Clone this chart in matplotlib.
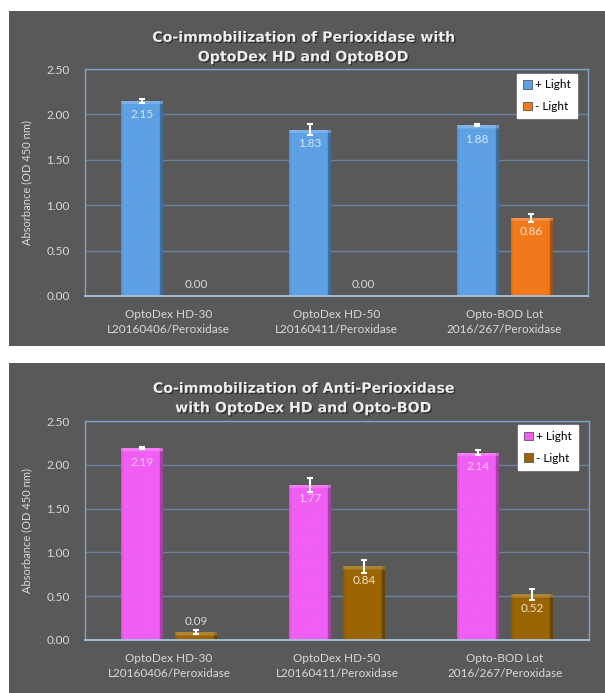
import numpy as np
import matplotlib
matplotlib.use("Agg")
import matplotlib.pyplot as plt
from matplotlib.patches import Rectangle, Patch
from matplotlib.colors import to_rgb
import matplotlib.patheffects as pe

# ---------------- data ----------------
categories = ["OptoDex HD-30\nL20160406/Peroxidase",
              "OptoDex HD-50\nL20160411/Peroxidase",
              "Opto-BOD Lot\n2016/267/Peroxidase"]
series_names = ["+ Light", "- Light"]

title_top = "Co-immobilization of Perioxidase with\nOptoDex HD and OptoBOD"
plus_top = [2.15, 1.83, 1.88]
plus_top_err = [0.02, 0.06, 0.01]
minus_top = [0.00, 0.00, 0.86]
minus_top_err = [0.00, 0.00, 0.04]

title_bot = "Co-immobilization of Anti-Perioxidase\nwith OptoDex HD and Opto-BOD"
plus_bot = [2.19, 1.77, 2.14]
plus_bot_err = [0.01, 0.08, 0.03]
minus_bot = [0.09, 0.84, 0.52]
minus_bot_err = [0.02, 0.07, 0.06]

yticks = [0.0, 0.5, 1.0, 1.5, 2.0, 2.5]
ylabel = "Absorbance (OD 450 nm)"

# ---------------- style ----------------
W, H = 605, 693
BG = "#595959"
GRID = "#67829f"
SPINE = "#7ea3c8"
BASE = "#a9c3dc"
TXT = "#dadada"
FONT = "Lato"

fig = plt.figure(figsize=(W / 100, H / 100), dpi=100)
fig.patch.set_facecolor("white")


def fx(px):
    return px / W


def fy(py):
    return 1 - py / H


# gray panels
for (top, bot) in [(11, 346), (363, 693)]:
    fig.patches.append(Rectangle((fx(9), fy(bot)), fx(605 - 9), (bot - top) / H,
                                 transform=fig.transFigure, facecolor=BG,
                                 edgecolor="none", zorder=-5))


def bevel(ax, patch, color, dark_right=0.68, dark_left=0.9):
    x0, y0 = patch.get_x(), patch.get_y()
    w, h = patch.get_width(), patch.get_height()
    if h <= 0:
        return
    rgb = np.array(to_rgb(color))
    nx, ny = 80, 300
    xs = (np.arange(nx) + 0.5) / nx
    prof = np.ones(nx)
    prof[xs < 0.04] = dark_left
    prof[xs > 0.93] = dark_right
    img = np.ones((ny, nx, 3)) * rgb
    img = img * prof[None, :, None]
    bev = 0.04
    ys = y0 + (np.arange(ny) + 0.5) / ny * h
    topmask = ys > (y0 + h - bev)
    light = rgb + (1 - rgb) * 0.2
    for j in np.where(topmask)[0]:
        img[j, :, :] = light * np.clip(prof, 0.85, 1)[:, None]
    img = np.clip(img, 0, 1)
    im = ax.imshow(img, extent=(x0, x0 + w, y0, y0 + h), origin="lower",
                   aspect="auto", interpolation="bilinear",
                   zorder=patch.get_zorder() + 0.1)
    im.set_clip_path(patch)


def draw_chart(ax, title, title_y, vals1, err1, vals2, err2, c1, c2, lc1, lc2):
    x = np.arange(len(categories))
    bw, off = 0.245, 0.161
    ax.set_facecolor("none")
    for vals, errs, col, lcol, dx in [(vals1, err1, c1, lc1, -off),
                                      (vals2, err2, c2, lc2, off)]:
        bars = ax.bar(x + dx, vals, width=bw, color=col, edgecolor="none", zorder=3)
        for b in bars:
            bevel(ax, b, col)
        v = np.array(vals)
        e = np.array(errs)
        m = v > 0
        ax.errorbar((x + dx)[m], v[m], yerr=e[m], fmt="none", ecolor="white",
                    elinewidth=1.5, capsize=2.5, capthick=1.5, zorder=5)
        for xi, vi in zip(x + dx, vals):
            if vi < 0.2:
                ax.annotate(f"{vi:.2f}", (xi, vi), xytext=(0, 8),
                            textcoords="offset points", ha="center", va="center",
                            color="#d9d9d9", fontsize=8.5, family=FONT, zorder=6)
            else:
                ax.annotate(f"{vi:.2f}", (xi, vi), xytext=(0, -10),
                            textcoords="offset points", ha="center", va="center",
                            color=lcol, fontsize=8.5, family=FONT, zorder=6)
    ax.set_xlim(-0.5, len(categories) - 0.5)
    ax.set_ylim(0, 2.5)
    ax.set_yticks(yticks)
    ax.set_yticklabels([f"{t:.2f}" for t in yticks], family=FONT, fontsize=8.5, color=TXT)
    ax.set_xticks(x)
    ax.set_xticklabels(categories, family=FONT, fontsize=8.5, color=TXT, linespacing=1.45)
    ax.tick_params(length=0, axis="y", pad=11)
    ax.tick_params(length=0, axis="x", pad=9)
    ax.grid(axis="y", color=GRID, lw=1.0, zorder=1)
    ax.set_axisbelow(True)
    for s in ["left", "top", "right"]:
        ax.spines[s].set_color(SPINE)
        ax.spines[s].set_linewidth(1.0)
    ax.spines["bottom"].set_color(BASE)
    ax.spines["bottom"].set_linewidth(1.3)
    ax.spines["bottom"].set_zorder(4)
    ax.set_ylabel(ylabel, family=FONT, fontsize=8, color=TXT, labelpad=10)
    fig.text(fx(303), fy(title_y), title, ha="center", va="center",
             fontsize=10.2, fontweight="bold", color="#eeeeee", family="DejaVu Sans",
             linespacing=1.5,
             path_effects=[pe.withSimplePatchShadow(offset=(1, -1), shadow_rgbFace="black", alpha=0.45)])
    handles = [Patch(facecolor=c1, edgecolor="#404040", lw=0.5),
               Patch(facecolor=c2, edgecolor="#404040", lw=0.5)]
    leg = ax.legend(handles, series_names, loc="upper right",
                    bbox_to_anchor=(0.978, 0.98), prop={"family": FONT, "size": 8.5},
                    frameon=True, fancybox=False, handlelength=0.75, handleheight=0.75,
                    handletextpad=0.3, labelspacing=0.9, borderpad=0.5,
                    borderaxespad=0)
    leg.get_frame().set_facecolor("white")
    leg.get_frame().set_edgecolor("white")
    leg.get_frame().set_alpha(1)
    leg.set_zorder(10)


ax1 = fig.add_axes([fx(85), fy(296), fx(588 - 85), (296 - 69) / H])
draw_chart(ax1, title_top, 47.5, plus_top, plus_top_err, minus_top, minus_top_err,
           "#5da1e4", "#f2791b", "#d6e6f7", "#fde2cc")

ax2 = fig.add_axes([fx(85), fy(640), fx(589 - 85), (640 - 421) / H])
draw_chart(ax2, title_bot, 398.5, plus_bot, plus_bot_err, minus_bot, minus_bot_err,
           "#f05ef3", "#9a6502", "#f9c6f9", "#f2e2c6")

fig.savefig("out.png", dpi=100, facecolor="white")
